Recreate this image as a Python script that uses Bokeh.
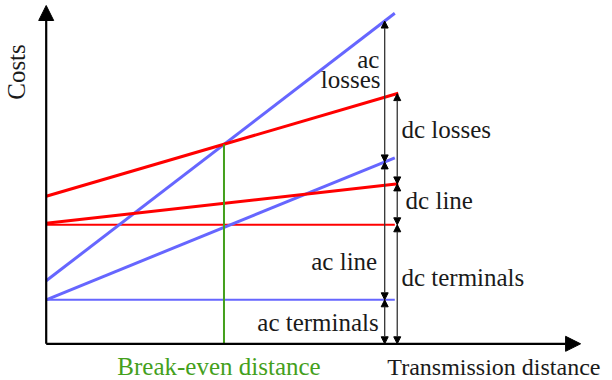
import numpy as np
from bokeh.plotting import figure
from bokeh.models import Arrow, NormalHead, Range1d
from bokeh.core.properties import value
from bokeh.embed import file_html
from bokeh.resources import INLINE

# ---- data (distance in arbitrary units, costs in arbitrary units) ----
ac_distance = [0.0, 10.0]
dc_distance = [0.0, 10.1]
ac_terminals = [4.4, 4.4]
ac_terminals_line = [4.4, 18.6]
ac_total = [6.3, 33.05]
dc_terminals = [11.9, 11.9]
dc_terminals_line = [12.05, 16.0]
dc_total = [14.75, 25.05]
breakeven_distance = 5.1
ac_arrow_distance = 9.71
dc_arrow_distance = 10.07

BLUE = "#6666ff"
RED = "#ff0000"
GREEN = "#44a01c"
FONT = value("Liberation Serif")
FS = "25px"

p = figure(width=612, height=380,
           x_range=Range1d(-1.311, 16.245), y_range=Range1d(-3.67, 34.33),
           x_axis_type=None, y_axis_type=None, toolbar_location=None,
           output_backend="svg", min_border=0, outline_line_color=None)
p.grid.visible = False

# thin horizontal lines (terminals)
p.line(ac_distance, ac_terminals, line_color=BLUE, line_width=2)
p.line(ac_distance, dc_terminals, line_color=RED, line_width=2)
# thick lines
p.line(ac_distance, ac_terminals_line, line_color=BLUE, line_width=3)
p.line(ac_distance, ac_total, line_color=BLUE, line_width=3)
p.line(dc_distance, dc_terminals_line, line_color=RED, line_width=3)
p.line(dc_distance, dc_total, line_color=RED, line_width=3)

# break-even vertical
be_cost = float(np.interp(breakeven_distance, dc_distance, dc_total))
p.line([breakeven_distance, breakeven_distance], [0, be_cost], line_color=GREEN, line_width=2)

# axes with arrows
def axis_arrow(x0, y0, x1, y1):
    p.add_layout(Arrow(x_start=x0, y_start=y0, x_end=x1, y_end=y1,
                       line_color="black", line_width=2.2,
                       end=NormalHead(size=15, fill_color="black", line_color="black")))

axis_arrow(0, 0, 15.33, 0)
axis_arrow(0, 0, 0, 33.83)

# dimension arrows
def dim_arrow(x, y0, y1):
    p.add_layout(Arrow(x_start=x, y_start=y0, x_end=x, y_end=y1,
                       line_color="#333333", line_width=1.3,
                       start=NormalHead(size=7, fill_color="black", line_color="black", line_width=1),
                       end=NormalHead(size=7, fill_color="black", line_color="black", line_width=1)))

ac_levels = [0.0,
             float(np.interp(ac_arrow_distance, ac_distance, ac_terminals)),
             float(np.interp(ac_arrow_distance, ac_distance, ac_terminals_line)),
             float(np.interp(ac_arrow_distance, ac_distance, ac_total))]
dc_levels = [0.0,
             float(np.interp(dc_arrow_distance, ac_distance, dc_terminals)),
             float(np.interp(dc_arrow_distance, dc_distance, dc_terminals_line)),
             float(np.interp(dc_arrow_distance, dc_distance, dc_total))]
for a, b in zip(ac_levels[:-1], ac_levels[1:]):
    dim_arrow(ac_arrow_distance, a, b)
for a, b in zip(dc_levels[:-1], dc_levels[1:]):
    dim_arrow(dc_arrow_distance, a, b)

# labels
right_labels = ["ac", "losses", "ac line", "ac terminals"]
right_x = [9.56, 9.59, 9.495, 9.54]
right_y = [28.46, 26.4, 8.2, 2.13]
p.text(x=right_x, y=right_y, text=right_labels, text_font=FONT, text_font_size=FS,
       text_align="right", text_baseline="alphabetic", text_color="#1a1a1a")

left_labels = ["dc losses", "dc line", "dc terminals"]
left_x = [10.19, 10.31, 10.19]
left_y = [21.46, 14.3, 6.63]
p.text(x=left_x, y=left_y, text=left_labels, text_font=FONT, text_font_size=FS,
       text_align="left", text_baseline="alphabetic", text_color="#1a1a1a")

p.text(x=[4.957], y=[-2.3], text=["Break-even distance"], text_font=FONT, text_font_size=FS,
       text_align="center", text_baseline="alphabetic", text_color=GREEN)
p.text(x=[15.9], y=[-2.3], text=["Transmission distance"], text_font=FONT, text_font_size="24px",
       text_align="right", text_baseline="alphabetic", text_color="#1a1a1a")
p.text(x=[-0.854], y=[27.18], text=["Costs"], text_font=FONT, text_font_size=FS, angle=np.pi / 2,
       text_align="center", text_baseline="alphabetic", text_color="#1a1a1a")

open("out.html", "w").write(file_html(p, INLINE))
